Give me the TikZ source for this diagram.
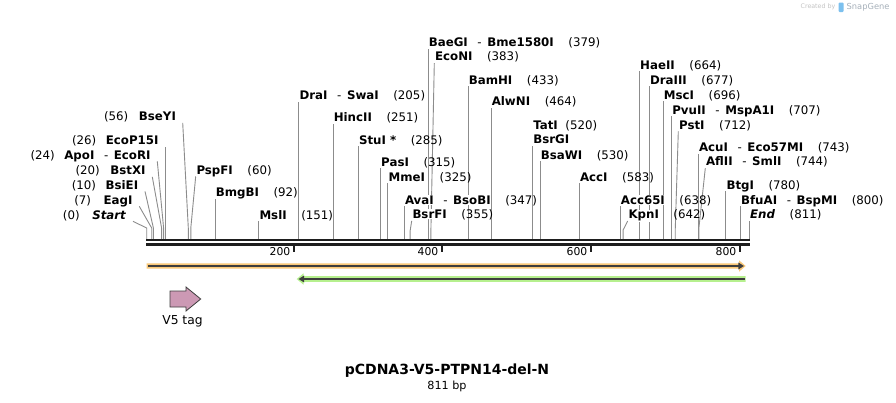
\documentclass[tikz,border=0pt]{standalone}
\usepackage{fontspec}
\setmainfont{DejaVu Sans}
\usepackage{xcolor}
\usepackage{tikz}
\usetikzlibrary{arrows.meta}

\definecolor{cutgray}{HTML}{8C8C8C}
\definecolor{rulerblack}{HTML}{1E1E1E}
\definecolor{orangeband}{HTML}{FAC878}
\definecolor{greenband}{HTML}{B6F08E}
\definecolor{v5pink}{HTML}{CC99B4}
\definecolor{arrowdark}{HTML}{3E3E3E}
\definecolor{sgblue}{HTML}{7CC0EE}
\definecolor{wmgray}{HTML}{C4C4C4}
\definecolor{sggray}{HTML}{A6B0BA}

\pgfdeclarelayer{paper}
\pgfdeclarelayer{lines}
\pgfsetlayers{paper,lines,main}

\setlength{\fboxsep}{0.6pt}
\newcommand{\enz}[1]{\colorbox{white}{\textbf{#1}}}
\newcommand{\also}{\hspace{9pt}-\hspace{5pt}}
\newcommand{\cutpos}[1]{\hspace{14pt}(#1)}

\begin{document}
\begin{tikzpicture}[x=1pt, y=-1pt,
    lab/.style={font=\fontsize{11.8}{13}\selectfont, inner xsep=0pt, inner ysep=0pt, text height=10.3pt, text depth=2pt},
    rlab/.style={lab, anchor=west},
    llab/.style={lab, anchor=east, inner xsep=6pt},
    cut/.style={cutgray, line width=0.9pt},
    ruler/.style={rulerblack, line width=2.4pt},
    tick/.style={rulerblack, line width=1.8pt},
    ticklab/.style={font=\fontsize{10.8}{12}\selectfont, anchor=east, inner sep=0pt},
    featline/.style={arrowdark, line width=1.4pt}]

\begin{pgfonlayer}{paper}
\fill[white] (0,0) rectangle (896,402);
\end{pgfonlayer}
\useasboundingbox (0,0) rectangle (896,402);

% sites on the ruler
\coordinate (s0) at (146.7,240);
\coordinate (s7) at (151.7,240);
\coordinate (s10) at (153.4,240);
\coordinate (s20) at (161.6,240);
\coordinate (s24) at (163.6,240);
\coordinate (s26) at (165.3,240);
\coordinate (s56) at (188.3,240);
\coordinate (s60) at (190.8,240);
\coordinate (s92) at (215,240);
\coordinate (s151) at (258.7,240);
\coordinate (s205) at (298.8,240);
\coordinate (s251) at (333,240);
\coordinate (s285) at (358.2,240);
\coordinate (s315) at (380.4,240);
\coordinate (s325) at (387.9,240);
\coordinate (s347) at (404.2,240);
\coordinate (s355) at (410.1,240);
\coordinate (s379) at (428,240);
\coordinate (s383) at (430.9,240);
\coordinate (s433) at (468,240);
\coordinate (s464) at (491,240);
\coordinate (s520) at (532.5,240);
\coordinate (s530) at (540,240);
\coordinate (s583) at (579.3,240);
\coordinate (s638) at (620.1,240);
\coordinate (s642) at (623.1,240);
\coordinate (s664) at (639.4,240);
\coordinate (s677) at (649.3,240);
\coordinate (s696) at (663.1,240);
\coordinate (s707) at (671.5,240);
\coordinate (s712) at (675.2,240);
\coordinate (s743) at (698.3,240);
\coordinate (s744) at (699,240);
\coordinate (s780) at (725.7,240);
\coordinate (s800) at (740.3,240);
\coordinate (s811) at (749.3,240);

% labels left of their cut
\node[llab] (startsite) at (133,215) {(0)\hspace{12pt}\enz{\textit{Start}}};
\node[llab] (eagi) at (139.3,200) {(7)\hspace{12pt}\enz{EagI}};
\node[llab] (bsiei) at (145,185) {(10)\hspace{9pt}\enz{BsiEI}};
\node[llab] (bstxi) at (152.3,170.5) {(20)\hspace{10pt}\enz{BstXI}};
\node[llab] (apoi) at (157.3,155) {(24)\hspace{9pt}\enz{ApoI}\also\enz{EcoRI}};
\node[llab] (ecop15i) at (165.3,140.3) {(26)\hspace{9pt}\enz{EcoP15I}};
\node[llab] (bseyi) at (182.7,116.5) {(56)\hspace{10pt}\enz{BseYI}};

% labels right of their cut
\node[rlab] (pspfi) at (195.7,170) {\enz{PspFI}\cutpos{60}};
\node[rlab] (bmgbi) at (215,192) {\enz{BmgBI}\cutpos{92}};
\node[rlab] (msli) at (258.7,215) {\enz{MslI}\cutpos{151}};
\node[rlab] (drai) at (298.8,95.5) {\enz{DraI}\also\enz{SwaI}\cutpos{205}};
\node[rlab] (hincii) at (333,117.5) {\enz{HincII}\cutpos{251}};
\node[rlab] (stui) at (358.2,140) {\enz{StuI *}\cutpos{285}};
\node[rlab] (pasi) at (380.4,162) {\enz{PasI}\cutpos{315}};
\node[rlab] (mmei) at (387.9,177) {\enz{MmeI}\cutpos{325}};
\node[rlab] (avai) at (404.2,200) {\enz{AvaI}\also\enz{BsoBI}\cutpos{347}};
\node[rlab] (bsrfi) at (411.7,214.5) {\enz{BsrFI}\cutpos{355}};
\node[rlab] (baegi) at (428,42.3) {\enz{BaeGI}\also\enz{Bme1580I}\cutpos{379}};
\node[rlab] (econi) at (434.3,56.7) {\enz{EcoNI}\cutpos{383}};
\node[rlab] (bamhi) at (468,80) {\enz{BamHI}\cutpos{433}};
\node[rlab] (alwni) at (491,101.7) {\enz{AlwNI}\cutpos{464}};
\node[rlab] (tati) at (532.5,125.3) {\enz{TatI}\hspace{7pt}(520)};
\node[rlab] (bsrgi) at (532.5,139.3) {\enz{BsrGI}};
\node[rlab] (bsawi) at (540,155) {\enz{BsaWI}\cutpos{530}};
\node[rlab] (acci) at (579.3,177) {\enz{AccI}\cutpos{583}};
\node[rlab] (acc65i) at (620.1,200) {\enz{Acc65I}\cutpos{638}};
\node[rlab] (kpni) at (627.7,214.7) {\enz{KpnI}\cutpos{642}};
\node[rlab] (haeii) at (639.4,65) {\enz{HaeII}\cutpos{664}};
\node[rlab] (draiii) at (649.3,80) {\enz{DraIII}\cutpos{677}};
\node[rlab] (msci) at (663.1,95) {\enz{MscI}\cutpos{696}};
\node[rlab] (pvuii) at (671.5,110) {\enz{PvuII}\also\enz{MspA1I}\cutpos{707}};
\node[rlab] (psti) at (678.3,125) {\enz{PstI}\cutpos{712}};
\node[rlab] (acui) at (698.3,147.3) {\enz{AcuI}\also\enz{Eco57MI}\cutpos{743}};
\node[rlab] (aflii) at (705.3,161.7) {\enz{AflII}\also\enz{SmlI}\cutpos{744}};
\node[rlab] (btgi) at (725.7,185) {\enz{BtgI}\cutpos{780}};
\node[rlab] (bfuai) at (740.3,200) {\enz{BfuAI}\also\enz{BspMI}\cutpos{800}};
\node[rlab] (endsite) at (749.3,214.3) {\enz{\textit{End}}\cutpos{811}};

\begin{pgfonlayer}{lines}
\draw[cut] (s0) -- ++(0,-12) -- (startsite.south east);
\draw[cut] (s7) -- ++(0,-12) -- (eagi.south east);
\draw[cut] (s10) -- ++(0,-12) -- (bsiei.south east);
\draw[cut] (s20) -- ++(0,-12) -- (bstxi.south east);
\draw[cut] (s24) -- ++(0,-12) -- (apoi.south east);
\draw[cut] (s26) -- (ecop15i.south east);
\draw[cut] (s56) -- ++(0,-12) -- (bseyi.south east);
\draw[cut] (s60) -- ++(0,-12) -- (pspfi.south west);
\draw[cut] (s92) -- (bmgbi.south west);
\draw[cut] (s151) -- (msli.south west);
\draw[cut] (s205) -- (drai.south west);
\draw[cut] (s251) -- (hincii.south west);
\draw[cut] (s285) -- (stui.south west);
\draw[cut] (s315) -- (pasi.south west);
\draw[cut] (s325) -- (mmei.south west);
\draw[cut] (s347) -- (avai.south west);
\draw[cut] (s355) -- ++(0,-9) -- (bsrfi.south west);
\draw[cut] (s379) -- (baegi.south west);
\draw[cut] (s383) -- ++(0,-10) -- (econi.south west);
\draw[cut] (s433) -- (bamhi.south west);
\draw[cut] (s464) -- (alwni.south west);
\draw[cut] (s520) -- (bsrgi.south west);
\draw[cut] (s530) -- (bsawi.south west);
\draw[cut] (s583) -- (acci.south west);
\draw[cut] (s638) -- (acc65i.south west);
\draw[cut] (s642) -- ++(0,-10) -- (kpni.south west);
\draw[cut] (s664) -- (haeii.south west);
\draw[cut] (s677) -- (draiii.south west);
\draw[cut] (s696) -- (msci.south west);
\draw[cut] (s707) -- (pvuii.south west);
\draw[cut] (s712) -- ++(0,-9) -- (psti.south west);
\draw[cut] (s743) -- (acui.south west);
\draw[cut] (s744) -- ++(0,-13) -- (aflii.south west);
\draw[cut] (s780) -- (btgi.south west);
\draw[cut] (s800) -- (bfuai.south west);
\draw[cut] (s811) -- (endsite.south west);
\end{pgfonlayer}

% ruler
\coordinate (rulerL) at (146,240.2);
\coordinate (rulerR) at (750,240.2);
\draw[ruler] (rulerL) -- (rulerR);
\draw[ruler] (146,244.4) -- (750,244.4);
\draw[tick] (294,244) -- (294,252.3);
\draw[tick] (442,244) -- (442,252.3);
\draw[tick] (591,244) -- (591,252.3);
\draw[tick] (740,244) -- (740,252.3);
\node[ticklab] (t200) at (290.5,251.7) {200};
\node[ticklab] (t400) at (438.5,251.7) {400};
\node[ticklab] (t600) at (587.5,251.7) {600};
\node[ticklab] (t800) at (736.5,251.7) {800};

% features
\coordinate (orangeL) at (148,266);
\coordinate (orangeR) at (744,266);
\fill[orangeband] (146.7,263.3) -- (739,263.3) -- (739,260.3) -- (745.7,266) -- (739,271.7) -- (739,268.7) -- (146.7,268.7) -- cycle;
\draw[featline, -{Triangle[length=5.7pt,width=6.6pt]}] (orangeL) -- (orangeR);

\coordinate (greenR) at (744.5,279);
\coordinate (greenL) at (298.5,279);
\fill[greenband] (745.7,276.2) -- (303.5,276.2) -- (303.5,273.3) -- (296.7,279) -- (303.5,284.7) -- (303.5,281.8) -- (745.7,281.8) -- cycle;
\draw[featline, -{Triangle[length=5.7pt,width=6.6pt]}] (greenR) -- (greenL);

\draw[fill=v5pink, draw=arrowdark, line width=0.8pt] (170,291) -- (186,291) -- (186,287) -- (200.7,299) -- (186,311) -- (186,307) -- (170,307) -- cycle;
\node[font=\fontsize{12.3}{14}\selectfont, inner sep=0pt] (v5tag) at (182.5,321) {V5 tag};

% title
\node[font=\fontsize{14}{16}\bfseries, inner sep=0pt] (title) at (447,371) {pCDNA3-V5-PTPN14-del-N};
\node[font=\fontsize{11.2}{13}\selectfont, inner sep=0pt] (length) at (447,386.3) {811 bp};

% watermark
\node[font=\fontsize{6.3}{7}\selectfont, text=wmgray, anchor=east, inner sep=0pt] (createdby) at (835.5,7) {Created by};
\fill[sgblue, rounded corners=1pt] (838.5,2.5) rectangle (843.5,12);
\node[font=\fontsize{8.3}{9}\selectfont, text=sggray, anchor=west, inner sep=0pt] (snapgene) at (846.5,7) {SnapGene};
\end{tikzpicture}
\end{document}
